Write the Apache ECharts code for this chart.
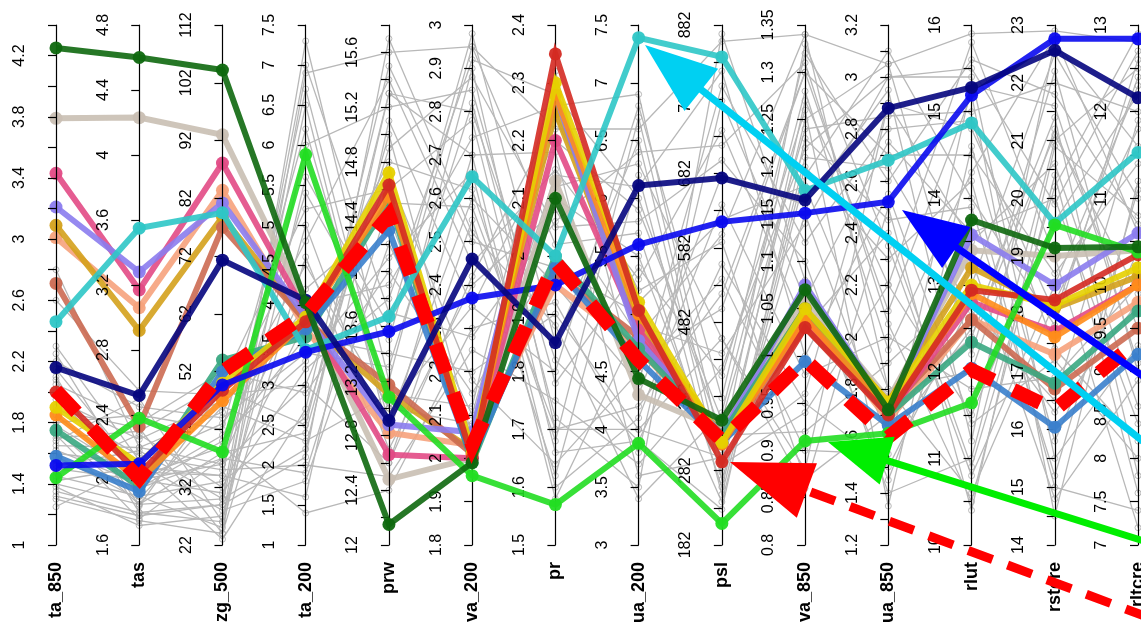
<!DOCTYPE html>
<html><head><meta charset="utf-8">
<script src="https://cdn.jsdelivr.net/npm/echarts@6/dist/echarts.min.js"></script>
<style>html,body{margin:0;padding:0;background:#fff}#c{width:1141px;height:632px}</style>
</head><body><div id="c"></div>
<script>
// ---- axes ----
const axisNames = ['ta_850','tas','zg_500','ta_200','prw','va_200','pr','ua_200','psl','va_850','ua_850','rlut','rstcre','rltcre'];
const axisMin = [1, 1.6, 22, 1, 12, 1.8, 1.5, 3, 182, 0.8, 1.2, 10, 14, 7];
const axisMax = [4.4, 4.8, 112, 7.5, 15.8, 3, 2.4, 7.5, 882, 1.35, 3.2, 16, 23, 13];
const tickStep = [0.2, 0.4, 10, 0.5, 0.2, 0.1, 0.1, 0.5, 50, 0.05, 0.1, 0.5, 0.5, 0.5];
const tickLabels = [
  [1,1.4,1.8,2.2,2.6,3,3.4,3.8,4.2],
  [1.6,2,2.4,2.8,3.2,3.6,4,4.4,4.8],
  [22,32,42,52,62,72,82,92,102,112],
  [1,1.5,2,2.5,3,3.5,4,4.5,5,5.5,6,6.5,7,7.5],
  [12,12.4,12.8,13.2,13.6,14,14.4,14.8,15.2,15.6],
  [1.8,1.9,2,2.1,2.2,2.3,2.4,2.5,2.6,2.7,2.8,2.9,3],
  [1.5,1.6,1.7,1.8,1.9,2,2.1,2.2,2.3,2.4],
  [3,3.5,4,4.5,5,5.5,6,6.5,7,7.5],
  [182,282,382,482,582,682,782,882],
  [0.8,0.85,0.9,0.95,1,1.05,1.1,1.15,1.2,1.25,1.3,1.35],
  [1.2,1.4,1.6,1.8,2,2.2,2.4,2.6,2.8,3,3.2],
  [10,11,12,13,14,15,16],
  [14,15,16,17,18,19,20,21,22,23],
  [7,7.5,8,8.5,9,9.5,10,11,12,13]
];

// ---- highlighted models (values per axis) ----
const lineTan       = [3.79, 4.23, 93.0, 4.00, 12.48, 2.00, 2.13, 4.30, 337, 1.060, 1.76, 13.40, 19.00, 10.40];
const lineSalmon    = [3.01, 3.06, 83.4, 3.70, 12.82, 2.03, 1.95, 4.70, 325, 1.045, 1.68, 12.60, 17.30, 9.80];
const lineGoldenrod = [3.09, 2.92, 78.8, 3.80, 13.10, 2.02, 2.25, 4.90, 330, 1.050, 1.75, 13.20, 18.10, 10.10];
const lineSienna    = [2.71, 2.33, 77.0, 3.80, 13.17, 2.01, 1.97, 4.80, 318, 1.030, 1.72, 12.60, 16.70, 9.50];
const linePink      = [3.43, 3.17, 88.1, 3.90, 12.66, 2.00, 2.20, 4.86, 326, 1.040, 1.70, 12.80, 17.70, 10.00];
const linePurple    = [3.21, 3.28, 81.2, 3.85, 12.88, 2.06, 2.28, 4.77, 330, 1.075, 1.72, 13.58, 18.50, 10.60];
const lineSeagreen  = [1.75, 1.96, 54.0, 3.60, 14.52, 1.99, 2.00, 4.70, 330, 1.050, 1.70, 12.34, 16.80, 9.70];
const lineSteel     = [1.58, 1.93, 52.0, 3.70, 14.30, 2.00, 1.98, 4.60, 320, 0.994, 1.66, 12.04, 16.04, 9.20];
const lineOrange    = [1.85, 2.00, 47.0, 3.80, 14.55, 2.01, 2.28, 5.00, 318, 1.040, 1.72, 12.90, 17.60, 10.00];
const lineYellow    = [1.90, 2.10, 50.0, 3.85, 14.72, 2.02, 2.30, 5.10, 320, 1.050, 1.75, 13.00, 18.15, 10.20];
const lineRed       = [2.00, 2.04, 48.8, 3.79, 14.63, 2.00, 2.35, 5.03, 294, 1.030, 1.70, 12.94, 18.24, 10.35];
const lineTurquoise = [2.46, 3.55, 79.5, 3.44, 13.67, 2.65, 2.00, 7.39, 839, 1.175, 2.68, 14.87, 19.57, 11.53];
const lineLime      = [1.44, 2.38, 38.1, 5.88, 13.08, 1.96, 1.57, 3.88, 211, 0.910, 1.63, 11.64, 19.54, 10.38];
const lineBlue      = [1.52, 2.10, 49.7, 3.41, 13.56, 2.37, 1.95, 5.60, 617, 1.151, 2.52, 15.19, 22.76, 12.84];
const lineNavy      = [2.16, 2.52, 71.3, 4.06, 12.91, 2.46, 1.85, 6.11, 676, 1.165, 2.88, 15.28, 22.56, 12.16];
const lineDarkgreen = [4.25, 4.60, 104.2, 4.03, 12.15, 1.99, 2.10, 4.44, 350, 1.070, 1.72, 13.75, 19.14, 10.44];
// annotation path (thick red dashes)
const lineAnnot     = [2.01, 2.01, 52.0, 3.88, 14.41, 2.03, 1.99, 4.60, 323, 0.996, 1.615, 12.02, 16.34, 9.36];

// ---- other models (grey) ----
const greyLines = [
  [1.30,1.75,24,6.9,15.6,2.95,2.22,6.6,860,1.34,3.05,15.9,22.9,12.8],
  [1.35,1.80,26,7.3,13.2,2.90,1.70,4.2,520,1.30,2.10,15.2,14.5,11.2],
  [1.40,1.85,30,2.2,15.3,2.70,2.18,3.6,300,1.25,3.05,12.2,22.2,9.0],
  [1.45,1.90,33,2.6,14.9,2.88,2.05,5.8,700,1.10,1.40,11.0,21.0,12.5],
  [1.50,2.00,36,3.0,12.6,2.55,1.62,6.2,250,1.20,2.30,14.2,15.0,7.4],
  [1.55,1.95,40,3.6,13.4,2.20,1.90,4.0,460,0.88,2.90,13.5,20.6,8.6],
  [1.60,2.10,28,1.8,14.2,2.10,2.25,5.1,620,1.18,1.80,10.6,18.2,11.8],
  [1.65,2.20,45,4.5,13.0,2.35,1.80,6.8,380,1.32,2.60,15.6,21.8,10.7],
  [1.70,2.30,50,5.2,14.6,2.78,1.66,3.9,560,0.95,1.50,12.8,16.3,9.8],
  [1.75,1.85,38,2.4,15.0,2.05,2.10,5.5,280,1.27,2.20,11.5,19.6,12.2],
  [1.80,2.40,42,6.2,12.9,2.60,1.95,4.4,800,1.12,2.80,14.9,17.4,8.2],
  [1.85,2.00,31,3.2,13.8,2.92,2.28,6.0,330,0.92,1.90,13.0,22.5,11.0],
  [1.90,2.15,35,2.0,12.5,2.25,1.75,3.7,420,1.22,3.00,15.4,15.5,9.3],
  [1.95,2.25,47,4.8,15.4,2.45,2.15,5.3,740,1.03,2.40,10.9,20.2,12.9],
  [2.00,1.90,25,5.6,13.6,2.98,1.85,6.5,270,1.15,1.60,12.5,21.4,7.8],
  [2.05,2.35,52,2.9,14.0,2.15,2.00,4.6,500,1.30,2.70,14.5,18.7,11.4],
  [2.10,1.80,29,6.5,12.8,2.70,1.60,4.1,640,0.98,2.00,11.8,16.9,10.0],
  [2.15,2.05,34,1.6,15.1,2.35,2.20,5.9,350,1.24,2.85,15.0,22.0,12.0],
  [2.20,2.45,44,3.4,13.3,2.82,1.72,3.5,870,1.08,1.45,13.3,14.8,8.9],
  [2.25,1.95,37,4.2,14.4,2.05,2.12,6.3,460,0.86,2.50,10.4,20.9,10.8],
  [1.25,2.10,23,2.7,15.5,2.50,1.98,5.0,240,1.19,3.10,14.0,17.8,12.6],
  [1.38,1.72,27,5.0,12.7,2.40,2.08,4.8,600,1.34,1.80,12.0,21.2,9.5],
  [1.48,2.28,32,3.8,14.8,2.62,1.68,6.7,290,0.94,2.20,15.8,19.0,7.2],
  [1.58,1.88,46,2.3,13.1,2.12,2.32,4.3,680,1.16,2.95,11.2,22.7,11.6],
  [1.68,2.50,26,6.0,15.2,2.85,1.78,5.4,410,1.26,1.35,14.6,15.8,10.4],
  [1.78,2.02,39,1.4,12.4,2.30,1.92,3.8,780,1.06,2.75,13.6,20.0,8.4],
  [2.30,2.12,43,4.0,13.9,2.74,2.26,6.9,310,1.33,2.35,10.8,18.5,12.3],
  [2.60,2.55,48,3.0,14.7,2.18,1.64,4.5,540,0.90,1.55,15.3,21.6,9.1],
  [2.80,2.20,36,5.4,13.5,2.95,2.02,5.7,260,1.21,2.65,12.7,16.5,11.9],
  [1.32,1.78,29,2.1,15.7,2.52,1.88,3.4,360,1.28,1.95,14.3,22.8,10.6],
  [1.42,2.08,34,6.7,13.0,2.08,2.14,6.1,820,1.00,2.55,11.4,17.2,8.0],
  [1.62,1.98,41,3.3,14.1,2.66,1.58,4.9,440,1.14,3.00,15.5,19.9,12.7],
  [1.88,2.32,24,4.6,12.6,2.42,2.24,5.2,590,0.87,1.70,12.4,21.1,9.9],
  [2.08,1.84,49,2.5,15.3,2.80,1.82,3.9,230,1.23,2.45,13.9,15.2,11.1],
  [1.52,2.18,30,7.0,13.7,2.28,2.06,6.4,720,1.31,2.05,10.5,20.4,7.6],
  [1.72,1.76,37,1.9,14.5,2.58,1.70,4.0,300,0.96,2.90,14.8,18.0,12.4]
];

const colored = [
  [lineTan,'#c9bfb3'],[lineSalmon,'#f6a27c'],[lineGoldenrod,'#d4a11c'],[lineSienna,'#cc6a52'],
  [linePink,'#e24a85'],[linePurple,'#8b7cee'],[lineSeagreen,'#3aa882'],[lineSteel,'#3a80cc'],
  [lineOrange,'#ff8c1a'],[lineYellow,'#e6d000'],[lineRed,'#d42a22'],[lineTurquoise,'#2ec6c6'],
  [lineLime,'#22dd22'],[lineBlue,'#0a0aee'],[lineNavy,'#05057e'],[lineDarkgreen,'#0e680e']
];

function fmt(v){ return String(+(+v).toFixed(4)); }
function norm(row){ return row.map((v,i)=>[i,(v-axisMin[i])/(axisMax[i]-axisMin[i])]); }

const FONT = 'Liberation Sans, Arial, sans-serif';
const parallelAxis = axisNames.map((n,i)=>({
  dim:i, name:n, min:axisMin[i], max:axisMax[i], interval:tickStep[i],
  nameLocation:'start', nameGap:17, nameRotate:90,
  nameTextStyle:{color:'#000', fontWeight:'bold', fontSize:18, fontFamily:FONT},
  axisLine:{lineStyle:{color:'#000', width:1.2}},
  axisTick:{show:true, length:-8, lineStyle:{color:'#000', width:1.2}},
  axisLabel:{rotate:90, fontSize:16, color:'#000', fontFamily:FONT, margin:-44,
    formatter:(v)=>{ const ok = tickLabels[i].some(t=>Math.abs(t-v)<1e-6); return ok?fmt(v):''; },
    showMinLabel:true, showMaxLabel:true, hideOverlap:false},
  splitLine:{show:false}
}));

const series = [];
series.push({type:'parallel', parallelIndex:0, data:greyLines, z:1, silent:true,
  lineStyle:{color:'#b8b8b8', width:1.3, opacity:1}});
series.push({type:'scatter', xAxisIndex:0, yAxisIndex:0, z:1, silent:true,
  data:greyLines.flatMap(norm), symbol:'circle', symbolSize:6,
  itemStyle:{color:'rgba(255,255,255,0)', borderColor:'#a8a8a8', borderWidth:1}});
colored.forEach(([row,col],k)=>{
  series.push({type:'parallel', parallelIndex:0, data:[row], z:3+k, silent:true,
    lineStyle:{color:col, width:6, opacity:0.9}});
  series.push({type:'scatter', z:3+k, silent:true, data:norm(row), symbol:'circle', symbolSize:13,
    itemStyle:{color:col, opacity:0.95}});
});
series.push({type:'parallel', parallelIndex:0, data:[lineAnnot], z:50, silent:true,
  lineStyle:{color:'#ff0000', width:14, opacity:1, type:[30,22], cap:'butt'}});

function arrow(x1,y1,x2,y2,color,width,headLen,headW,dash){
  const dx=x2-x1, dy=y2-y1, L=Math.hypot(dx,dy), ux=dx/L, uy=dy/L, nx=-uy, ny=ux;
  const bx=x2-ux*headLen, by=y2-uy*headLen;
  return [
    {type:'line', z:100, shape:{x1:x1,y1:y1,x2:bx+ux*4,y2:by+uy*4},
      style:{stroke:color, lineWidth:width, lineDash:dash||null}},
    {type:'polygon', z:101, shape:{points:[[x2,y2],[bx+nx*headW,by+ny*headW],[bx-nx*headW,by-ny*headW]]},
      style:{fill:color}}
  ];
}
const graphics = [].concat(
  arrow(1150,447,645,45,'#00d0f2',7,72,27),
  arrow(1150,381,902,210,'#0000ff',7,66,25),
  arrow(1150,543,828,442,'#00ee00',7,62,25),
  arrow(1150,618,730,462,'#ff0000',9,82,29,[26,16])
);

const chart = echarts.init(document.getElementById('c'), null, {renderer:'canvas'});
chart.setOption({
  animation:false,
  backgroundColor:'#fff',
  parallel:{left:56, right:3, top:25, bottom:87, layout:'horizontal', parallelAxisDefault:{}},
  parallelAxis: parallelAxis,
  grid:{left:56, right:3, top:25, bottom:87, show:false},
  xAxis:{type:'category', data:axisNames, boundaryGap:false, show:false},
  yAxis:{type:'value', min:0, max:1, show:false},
  series: series,
  graphic: graphics
});
</script></body></html>
